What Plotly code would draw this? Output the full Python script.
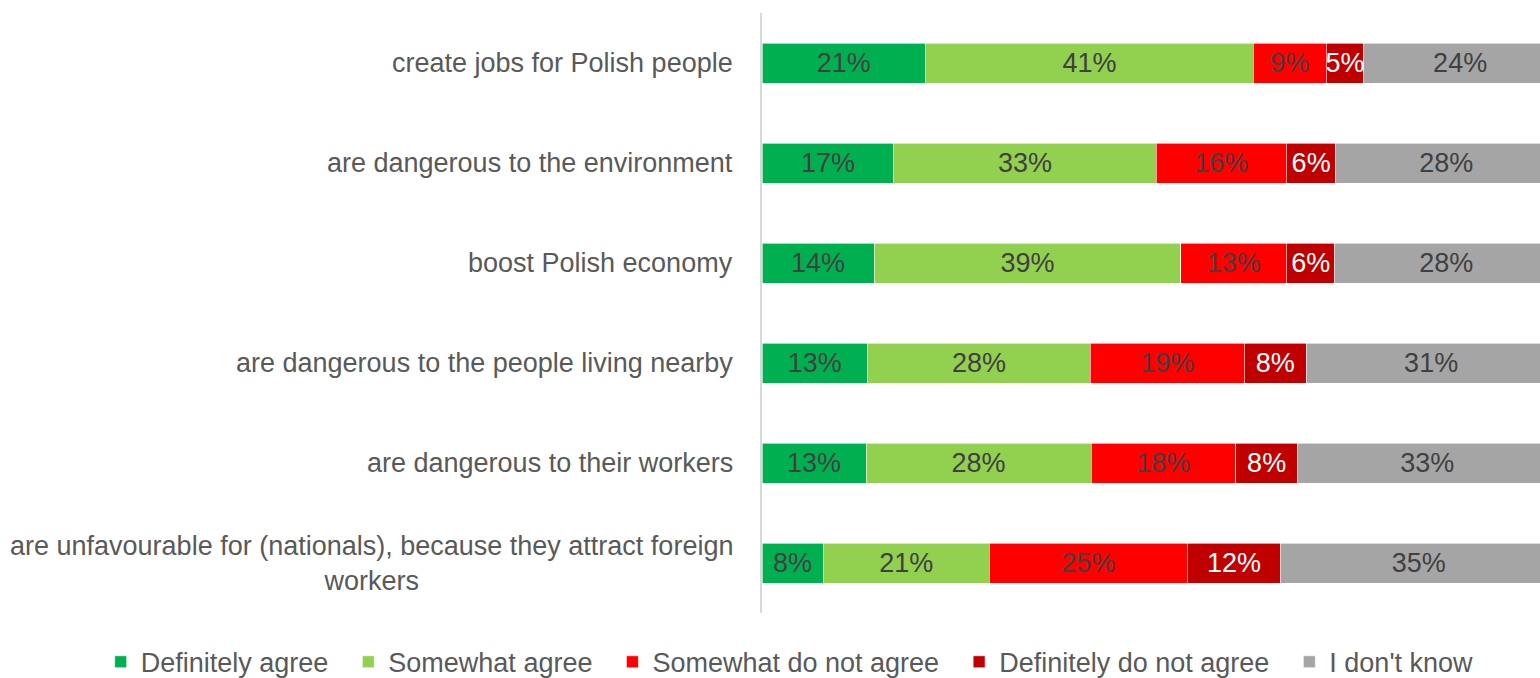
import plotly.graph_objects as go

categories = [
    "create jobs for Polish people",
    "are dangerous to the environment",
    "boost Polish economy",
    "are dangerous to the people living nearby",
    "are dangerous to their workers",
    "are unfavourable for (nationals), because they attract foreign<br>workers",
]
series_names = ["Definitely agree", "Somewhat agree", "Somewhat do not agree",
                "Definitely do not agree", "I don't know"]
definitely_agree = [20.6, 16.6, 14.1, 13.3, 13.1, 7.7]
somewhat_agree = [41.2, 33.0, 38.6, 28.0, 28.3, 20.9]
somewhat_not_agree = [9.2, 16.4, 13.3, 19.4, 18.2, 24.9]
definitely_not_agree = [4.7, 6.2, 6.1, 7.8, 7.8, 11.8]
dont_know = [24.3, 27.8, 28.0, 31.4, 32.6, 34.7]

values = [definitely_agree, somewhat_agree, somewhat_not_agree, definitely_not_agree, dont_know]
colors = ["#00B050", "#92D050", "#FF0000", "#C00000", "#A5A5A5"]
text_colors = ["#404040", "#404040", "#404040", "#FFFFFF", "#404040"]

FONT = "Liberation Sans, Arial, sans-serif"
FS = 27

fig = go.Figure()
for i, (name, vals) in enumerate(zip(series_names, values)):
    legend_name = name + ("\u00a0\u00a0" if i < len(series_names) - 1 else "")
    fig.add_trace(go.Bar(
        y=categories, x=vals, orientation="h", name=legend_name,
        marker=dict(color=colors[i], line=dict(color="#FFFFFF", width=0.6)),
        width=0.4,
        texttemplate="%{x:.0f}%", textposition="inside", insidetextanchor="middle",
        constraintext="none", textangle=0,
        textfont=dict(family=FONT, size=FS, color=text_colors[i]),
        hoverinfo="skip",
    ))

for cat in categories:
    fig.add_annotation(
        x=0, xref="paper", y=cat, yref="y", xanchor="right", yanchor="middle",
        xshift=-27, text=cat, showarrow=False, align="center",
        font=dict(family=FONT, size=FS, color="#595959"),
    )

fig.update_layout(
    width=1540, height=678,
    margin=dict(l=762, r=0, t=13, b=65, autoexpand=False),
    barmode="stack",
    plot_bgcolor="white", paper_bgcolor="white",
    font=dict(family=FONT, size=FS, color="#595959"),
    xaxis=dict(visible=False, range=[0, 97.9], fixedrange=True),
    yaxis=dict(categoryorder="array", categoryarray=categories, autorange="reversed",
               showticklabels=False, showline=True, linecolor="#D9D9D9", linewidth=1.5,
               ticks="", showgrid=False, zeroline=False),
    legend=dict(orientation="h", xref="paper", yref="paper",
                x=-0.85, xanchor="left", y=-0.082, yanchor="middle",
                font=dict(family=FONT, size=FS, color="#595959"),
                traceorder="normal"),
    showlegend=True,
)

fig.write_html("out.html", config={"displayModeBar": False},
               post_script="document.body.style.margin='0';document.body.style.overflow='hidden';")
